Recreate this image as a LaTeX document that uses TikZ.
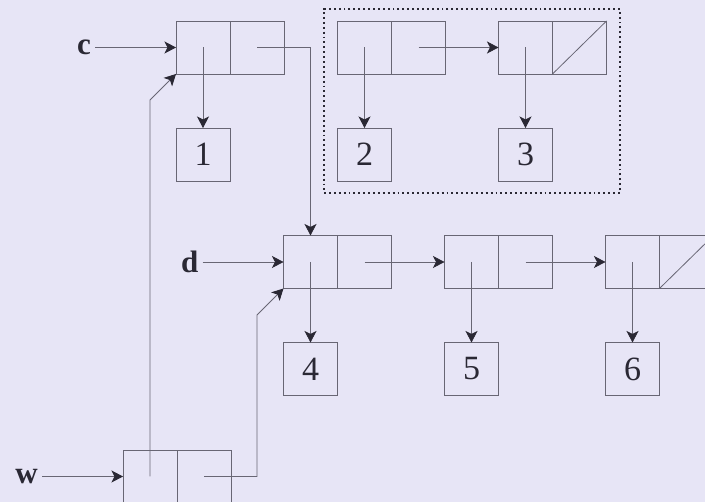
\documentclass[tikz,border=0pt]{standalone}
\usepackage{fontspec}
\setmainfont{Liberation Serif}
\usetikzlibrary{arrows.meta, positioning, fit}
\definecolor{paper}{RGB}{231,229,246}
\definecolor{inkline}{RGB}{104,102,116}
\definecolor{ink}{RGB}{42,40,52}

\begin{document}
\begin{tikzpicture}[
    x=1pt, y=1pt,
    cell/.style={rectangle, draw=inkline, line width=0.8pt, minimum width=54pt, minimum height=53pt, inner sep=0pt, outer sep=0pt},
    valbox/.style={cell, text=ink, font=\fontsize{34}{34}\selectfont},
    var/.style={text=ink, font=\fontsize{31}{31}\selectfont\bfseries, inner sep=4pt},
    ptr/.style={draw=inkline, line width=0.8pt, -{Stealth[length=11.5pt, width=12pt, inset=3pt, color=ink]}},
    link/.style={draw=inkline, line width=0.8pt},
    group/.style={draw=ink, line width=2.6pt, dash pattern=on 1.9pt off 3pt, inner xsep=13.5pt, inner ysep=12pt}
]
% Frame
\path[use as bounding box] (0,0) rectangle (705,502);
\clip (0,0) rectangle (705,502);
\fill[paper] (0,0) rectangle (705,502);

% Nodes
\node[cell] (c1) at (203,454.5) {};
\node[cell, right=0pt of c1] (c2) {};
\node[valbox, below=54pt of c1] (v1) {1};
\node[var, left=81pt of c1] (c) {c};

\node[cell] (l2a) at (364.5,454.5) {};
\node[cell, right=0pt of l2a] (l2b) {};
\node[valbox, below=54pt of l2a] (v2) {2};
\node[cell, right=53pt of l2b] (l3a) {};
\node[cell, right=0pt of l3a] (l3b) {};
\node[valbox, below=54pt of l3a] (v3) {3};
\node[group, fit=(l2a)(l3b)(v2)(v3)] (grp) {};

\node[cell] (d1) at (310.5,240) {};
\node[cell, right=0pt of d1] (d2) {};
\node[valbox, below=54pt of d1] (v4) {4};
\node[var, left=81pt of d1] (d) {d};
\node[cell, right=53pt of d2] (l5a) {};
\node[cell, right=0pt of l5a] (l5b) {};
\node[valbox, below=54pt of l5a] (v5) {5};
\node[cell, right=53pt of l5b] (l6a) {};
\node[cell, right=0pt of l6a] (l6b) {};
\node[valbox, below=54pt of l6a] (v6) {6};

\node[cell] (w1) at (150,25.5) {};
\node[cell, right=0pt of w1] (w2) {};
\node[var, left=81pt of w1] (w) {w};

% Arrows
\draw[ptr] (c) -- (c1);
\draw[ptr] (c1.center) -- (v1);
\draw[ptr] (c2.center) -| (d1);
\draw[ptr] (l2a.center) -- (v2);
\draw[ptr] (l2b.center) -- (l3a);
\draw[ptr] (l3a.center) -- (v3);
\draw[link] (l3b.south west) -- (l3b.north east);
\draw[ptr] (d) -- (d1);
\draw[ptr] (d1.center) -- (v4);
\draw[ptr] (d2.center) -- (l5a);
\draw[ptr] (l5a.center) -- (v5);
\draw[ptr] (l5b.center) -- (l6a);
\draw[ptr] (l6a.center) -- (v6);
\draw[link] (l6b.south west) -- (l6b.north east);
\draw[ptr] (w) -- (w1);
\draw[ptr] (w1.center) -- ++(0,376.5) -- (c1.south west);
\draw[ptr] (w2.center) -- ++(53,0) -- ++(0,161.5) -- (d1.south west);

\end{tikzpicture}
\end{document}
